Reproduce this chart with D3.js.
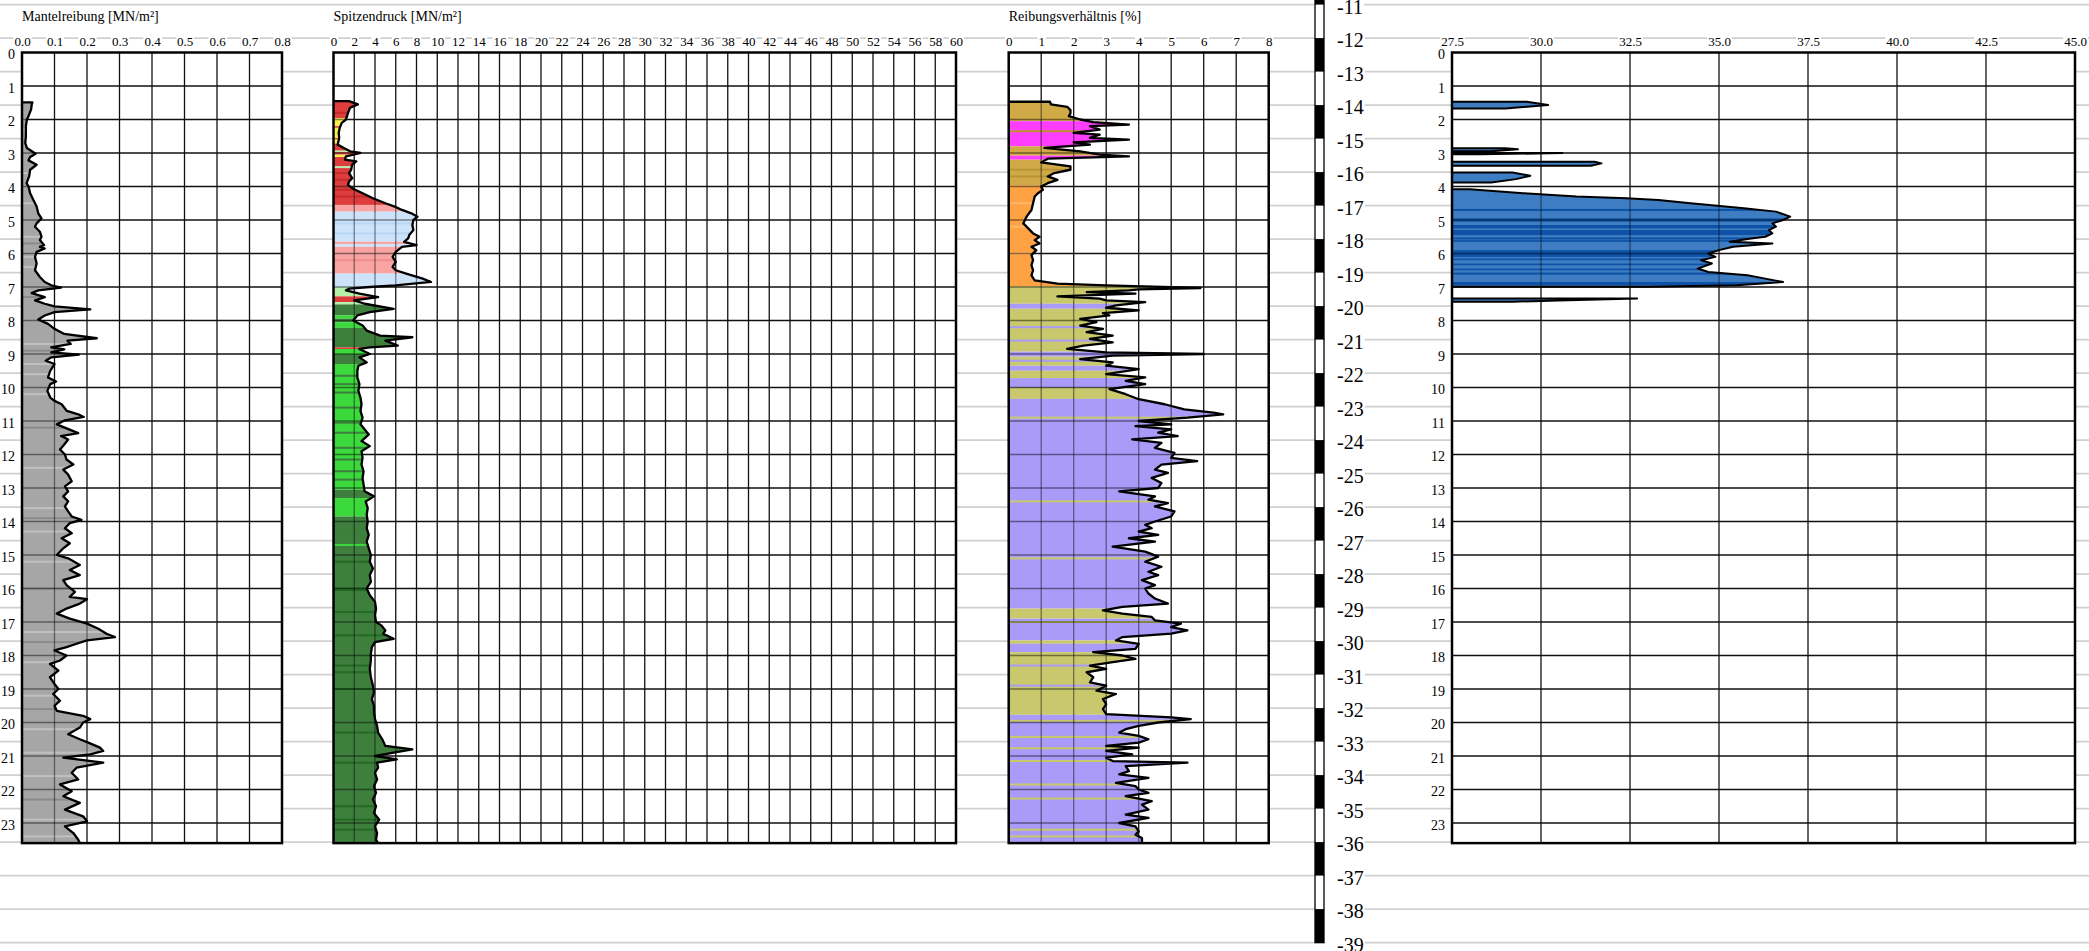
<!DOCTYPE html>
<html><head><meta charset="utf-8">
<script src="https://cdn.jsdelivr.net/npm/d3@7"></script>
<style>
body{margin:0;background:#fff;}
svg{display:block;font-family:"Liberation Serif","Times New Roman",serif;}
</style>
</head><body>
<svg id="chart" width="2089" height="951"></svg>
<script>
// ---------------- DATA ----------------
const depthTicks = [0,1,2,3,4,5,6,7,8,9,10,11,12,13,14,15,16,17,18,19,20,21,22,23];
const elevTicks = [-11,-12,-13,-14,-15,-16,-17,-18,-19,-20,-21,-22,-23,-24,-25,-26,-27,-28,-29,-30,-31,-32,-33,-34,-35,-36,-37,-38,-39];
const fsTicks = [0,0.1,0.2,0.3,0.4,0.5,0.6,0.7,0.8];
const qcTicks = [0,2,4,6,8,10,12,14,16,18,20,22,24,26,28,30,32,34,36,38,40,42,44,46,48,50,52,54,56,58,60];
const rfTicks = [0,1,2,3,4,5,6,7,8];
const phiTicks = [27.5,30,32.5,35,37.5,40,42.5,45];

// Mantelreibung [depth, MN/m²]
const fsProfile = [[1.49,0.032],[1.55,0.03],[1.7,0.028],[1.9,0.02],[2.0,0.015],[2.2,0.012],[2.5,0.012],[2.7,0.01],[2.85,0.015],[3.02,0.042],[3.12,0.025],[3.22,0.02],[3.35,0.045],[3.5,0.025],[3.7,0.022],[3.9,0.014],[4.0,0.02],[4.2,0.025],[4.4,0.035],[4.6,0.045],[4.8,0.05],[4.95,0.06],[5.1,0.045],[5.2,0.04],[5.35,0.055],[5.5,0.06],[5.6,0.055],[5.75,0.068],[5.8,0.055],[5.85,0.07],[5.95,0.045],[6.1,0.04],[6.3,0.045],[6.5,0.04],[6.7,0.055],[6.85,0.07],[6.95,0.09],[7.02,0.12],[7.1,0.05],[7.18,0.03],[7.3,0.07],[7.4,0.04],[7.5,0.07],[7.58,0.1],[7.67,0.21],[7.75,0.1],[7.85,0.07],[7.97,0.05],[8.1,0.08],[8.25,0.1],[8.4,0.13],[8.53,0.23],[8.6,0.14],[8.7,0.15],[8.8,0.09],[8.86,0.13],[8.95,0.09],[9.02,0.175],[9.1,0.09],[9.2,0.073],[9.3,0.1],[9.5,0.087],[9.7,0.08],[9.82,0.105],[9.9,0.087],[10.1,0.078],[10.3,0.087],[10.4,0.1],[10.5,0.122],[10.7,0.138],[10.8,0.173],[10.88,0.19],[10.98,0.132],[11.1,0.107],[11.36,0.173],[11.45,0.12],[11.55,0.142],[11.7,0.13],[11.85,0.117],[12.0,0.132],[12.15,0.137],[12.3,0.158],[12.45,0.127],[12.6,0.142],[12.8,0.153],[12.95,0.132],[13.1,0.142],[13.25,0.127],[13.4,0.142],[13.55,0.132],[13.7,0.142],[13.85,0.153],[13.95,0.183],[14.05,0.147],[14.2,0.132],[14.35,0.153],[14.5,0.122],[14.65,0.147],[14.8,0.127],[15.0,0.107],[15.1,0.142],[15.3,0.178],[15.45,0.147],[15.6,0.178],[15.75,0.127],[15.9,0.137],[16.1,0.163],[16.25,0.147],[16.32,0.2],[16.45,0.178],[16.6,0.137],[16.75,0.107],[16.9,0.147],[17.05,0.2],[17.2,0.235],[17.35,0.26],[17.45,0.286],[17.55,0.2],[17.65,0.168],[17.75,0.137],[17.85,0.1],[18.0,0.137],[18.15,0.117],[18.25,0.086],[18.45,0.112],[18.65,0.086],[18.85,0.1],[19.0,0.112],[19.15,0.096],[19.35,0.117],[19.5,0.1],[19.65,0.107],[19.8,0.188],[19.9,0.21],[20.0,0.188],[20.15,0.178],[20.35,0.142],[20.5,0.178],[20.6,0.204],[20.75,0.24],[20.85,0.25],[20.95,0.21],[21.05,0.127],[21.2,0.25],[21.35,0.168],[21.5,0.153],[21.7,0.173],[21.85,0.117],[22.05,0.153],[22.2,0.127],[22.4,0.178],[22.6,0.132],[22.8,0.188],[22.95,0.2],[23.1,0.132],[23.3,0.158],[23.5,0.173],[23.6,0.178]];

// Spitzendruck [depth, MN/m²]
const qcProfile = [[1.45,1.5],[1.55,2.35],[1.65,1.6],[1.8,1.4],[2.0,1.2],[2.1,0.8],[2.25,0.6],[2.4,0.5],[2.55,0.55],[2.75,0.4],[2.85,1.0],[2.95,1.6],[3.0,2.6],[3.1,1.2],[3.2,1.1],[3.25,2.2],[3.35,1.8],[3.5,1.7],[3.6,1.5],[3.75,1.8],[3.85,1.5],[3.95,1.4],[4.05,1.8],[4.2,2.8],[4.35,3.8],[4.5,5.0],[4.6,5.9],[4.7,6.6],[4.8,7.5],[4.9,8.1],[5.0,7.7],[5.15,7.6],[5.3,7.7],[5.45,7.3],[5.55,7.2],[5.65,6.8],[5.75,8.0],[5.8,6.6],[5.95,6.0],[6.1,5.7],[6.25,6.0],[6.4,5.7],[6.5,6.0],[6.6,7.0],[6.75,8.6],[6.85,9.4],[6.95,6.0],[7.0,3.5],[7.05,1.5],[7.1,1.2],[7.2,2.5],[7.3,4.3],[7.4,2.0],[7.5,3.0],[7.65,5.8],[7.75,3.5],[7.85,2.3],[8.0,1.9],[8.15,2.8],[8.3,3.2],[8.45,4.5],[8.5,7.6],[8.6,5.0],[8.75,6.2],[8.8,3.5],[8.85,2.5],[9.0,3.5],[9.1,2.5],[9.25,3.2],[9.35,2.4],[9.5,2.3],[9.7,2.3],[9.9,2.5],[10.1,2.4],[10.3,2.6],[10.5,2.7],[10.7,2.6],[10.9,2.8],[11.1,2.6],[11.4,3.4],[11.6,2.7],[11.75,3.5],[11.9,2.7],[12.1,2.8],[12.3,2.7],[12.5,2.9],[12.7,2.8],[12.9,2.9],[13.1,3.0],[13.25,3.9],[13.4,3.1],[13.6,3.3],[13.8,3.2],[14.0,3.3],[14.2,3.2],[14.4,3.4],[14.6,3.2],[14.8,3.4],[15.0,3.6],[15.2,3.5],[15.4,3.8],[15.6,3.5],[15.8,3.6],[16.0,3.2],[16.2,3.5],[16.4,4.0],[16.6,4.1],[16.8,4.0],[17.0,4.1],[17.1,4.6],[17.25,5.0],[17.35,4.8],[17.5,5.8],[17.6,4.0],[17.75,3.7],[17.95,3.6],[18.15,3.6],[18.4,3.5],[18.65,3.6],[18.9,3.8],[19.1,3.9],[19.3,3.7],[19.5,3.9],[19.7,3.9],[19.9,4.0],[20.1,4.2],[20.3,4.3],[20.5,4.7],[20.7,5.0],[20.8,7.6],[20.9,5.8],[21.0,4.0],[21.1,6.1],[21.2,4.2],[21.35,4.3],[21.5,4.0],[21.7,4.2],[21.9,3.9],[22.1,4.1],[22.3,3.8],[22.5,4.1],[22.7,3.9],[22.9,4.4],[23.1,4.0],[23.3,4.2],[23.5,4.1],[23.6,4.3]];

// Reibungsverhältnis [depth, %]
const rfProfile = [[1.47,1.27],[1.55,1.3],[1.62,1.8],[1.72,1.9],[1.82,1.9],[1.9,1.85],[2.0,2.2],[2.08,2.6],[2.15,3.7],[2.2,2.5],[2.3,2.8],[2.4,2.0],[2.45,2.8],[2.55,2.5],[2.6,3.7],[2.68,2.0],[2.75,2.5],[2.85,1.1],[2.95,2.2],[3.05,2.8],[3.1,3.7],[3.17,1.2],[3.28,1.0],[3.4,1.9],[3.5,1.9],[3.6,1.4],[3.7,1.2],[3.8,1.5],[3.9,1.2],[4.0,1.0],[4.1,1.05],[4.2,0.9],[4.3,0.8],[4.5,0.75],[4.7,0.7],[4.9,0.55],[5.1,0.45],[5.25,0.6],[5.4,0.75],[5.5,0.95],[5.6,0.8],[5.7,0.95],[5.8,0.7],[5.9,0.85],[6.05,0.7],[6.2,0.75],[6.35,0.7],[6.5,0.75],[6.65,0.7],[6.8,0.8],[6.9,1.5],[6.95,3.0],[7.03,5.9],[7.07,4.0],[7.1,3.7],[7.15,2.4],[7.2,3.9],[7.28,1.5],[7.35,2.8],[7.4,3.0],[7.45,4.2],[7.55,3.3],[7.62,3.0],[7.7,4.0],[7.78,2.9],[7.85,3.1],[7.95,2.2],[8.05,2.7],[8.15,2.2],[8.25,2.9],[8.35,2.4],[8.45,3.2],[8.55,2.5],[8.65,3.2],[8.75,2.3],[8.85,1.8],[8.95,3.0],[9.0,6.0],[9.05,3.2],[9.15,2.2],[9.25,3.2],[9.35,3.0],[9.45,4.0],[9.6,3.0],[9.7,4.2],[9.8,3.6],[9.9,4.2],[10.05,3.1],[10.2,3.6],[10.35,4.0],[10.5,4.8],[10.65,5.4],[10.75,6.3],[10.8,6.6],[10.9,5.5],[11.0,4.0],[11.1,5.0],[11.15,3.9],[11.25,5.0],[11.35,4.6],[11.45,5.2],[11.55,3.8],[11.65,4.7],[11.8,4.5],[11.95,5.1],[12.1,5.0],[12.2,5.8],[12.3,4.7],[12.45,4.5],[12.55,4.9],[12.7,4.4],[12.85,4.7],[13.0,4.6],[13.1,3.4],[13.25,4.5],[13.35,4.3],[13.45,4.9],[13.55,4.5],[13.7,5.1],[13.85,5.0],[14.0,4.5],[14.1,4.2],[14.2,4.4],[14.3,4.0],[14.4,4.6],[14.5,3.7],[14.6,4.5],[14.75,3.2],[14.9,4.2],[15.05,4.6],[15.2,4.2],[15.35,4.7],[15.5,4.3],[15.6,4.6],[15.75,4.1],[15.9,4.5],[16.0,4.2],[16.15,4.3],[16.3,4.5],[16.45,4.9],[16.55,3.5],[16.65,2.9],[16.75,3.5],[16.85,4.4],[16.95,4.5],[17.05,5.3],[17.15,5.0],[17.25,5.5],[17.35,5.0],[17.45,3.5],[17.55,3.3],[17.65,4.0],[17.8,3.9],[17.9,2.6],[18.0,3.5],[18.1,3.9],[18.2,3.2],[18.3,2.5],[18.4,3.0],[18.5,2.4],[18.65,2.6],[18.8,2.5],[18.9,3.0],[19.05,2.7],[19.15,3.3],[19.3,2.9],[19.45,3.0],[19.6,2.9],[19.75,3.0],[19.85,5.0],[19.9,5.6],[20.0,4.6],[20.1,4.0],[20.2,3.6],[20.3,3.4],[20.4,4.0],[20.5,4.3],[20.6,4.0],[20.7,3.0],[20.75,4.0],[20.85,3.0],[20.95,3.8],[21.05,3.0],[21.15,3.2],[21.2,5.5],[21.3,3.6],[21.45,3.7],[21.55,3.4],[21.65,4.3],[21.8,3.3],[21.9,3.9],[22.0,4.0],[22.1,4.3],[22.2,3.6],[22.35,4.4],[22.45,4.1],[22.6,4.3],[22.75,3.6],[22.85,4.3],[23.0,3.4],[23.1,3.9],[23.25,4.0],[23.35,3.9],[23.45,4.1],[23.6,4.1]];

// right-hand panel [depth, value], null = gap
const phiProfile = [[1.47,29.6],[1.57,30.2],[1.67,29.0],null,
 [2.86,29.0],[2.89,29.35],[2.95,28.6],null,
 [3.0,30.6],[3.04,28.3],null,
 [3.26,31.5],[3.31,31.7],[3.38,31.4],null,
 [3.58,29.2],[3.68,29.7],[3.78,29.3],[3.88,28.6],null,
 [4.08,28.0],[4.2,29.5],[4.3,31.0],[4.35,32.4],[4.4,33.3],[4.5,34.2],[4.65,35.7],[4.75,36.6],[4.9,37.0],[5.0,36.8],[5.1,36.5],[5.2,36.6],[5.3,36.4],[5.4,36.5],[5.5,36.3],[5.55,35.9],[5.65,35.3],[5.7,36.5],[5.8,35.4],[5.9,35.0],[6.0,34.7],[6.1,34.9],[6.2,34.5],[6.3,34.8],[6.45,34.4],[6.55,34.7],[6.65,35.8],[6.75,36.3],[6.85,36.8],[6.95,35.5],[6.99,33.0],null,
 [7.34,32.7],[7.4,30.5],[7.44,29.2]];

// soil-class bands [top, bottom, class]
const fsBands = [[1.4,23.6,'grey']];
const fsStripes = [[2.3,'greyL'],[3.6,'greyL'],[4.5,'greyL'],[5.5,'greyL'],[5.7,'greyD'],[6.1,'greyL'],[6.4,'greyL'],[7.3,'greyD'],[8.7,'greyL'],[8.9,'greyD'],[9.3,'greyL'],[9.6,'greyL'],[10.2,'greyL'],[11.2,'greyD'],[12.4,'greyL'],[13.6,'greyL'],[13.9,'greyD'],[14.3,'greyL'],[15.2,'greyL'],[16.0,'greyD'],[17.3,'greyL'],[17.6,'greyD'],[18.2,'greyL'],[19.2,'greyL'],[19.6,'greyD'],[20.2,'greyL'],[20.9,'greyL'],[21.6,'greyL'],[22.3,'greyD'],[22.9,'greyL'],[23.4,'greyL']];
const qcBands = [[1.45,1.96,'red'],[1.96,2.2,'yellow'],[2.2,2.25,'red'],[2.25,2.55,'yellow'],[2.55,2.6,'red'],[2.6,2.72,'yellow'],[2.72,2.93,'red'],[2.93,2.98,'lgreen'],[2.98,3.05,'red'],[3.05,3.12,'yellow'],[3.12,3.4,'red'],[3.4,3.45,'lgreen'],[3.45,4.55,'red'],[4.55,4.75,'pink'],[4.75,5.65,'blue'],[5.65,5.72,'pink'],[5.72,5.8,'blue'],[5.8,6.6,'pink'],[6.6,7.0,'blue'],[7.0,7.28,'lgreen'],[7.28,7.45,'red'],[7.45,7.52,'lgreen'],[7.52,7.85,'dgreen'],[7.85,7.95,'bgreen'],[7.95,8.05,'dgreen'],[8.05,8.22,'bgreen'],[8.22,8.8,'dgreen'],[8.8,8.85,'red'],[8.85,9.0,'bgreen'],[9.0,9.3,'dgreen'],[9.3,13.05,'bgreen'],[13.05,13.3,'dgreen'],[13.3,13.85,'bgreen'],[13.85,23.6,'dgreen']];
const qcStripes = [[1.8,'redD'],[3.6,'redD'],[3.8,'redD'],[4.1,'redD'],[4.3,'redD'],[5.1,'blueD'],[5.4,'blueD'],[6.2,'pinkD'],[9.65,'dgreen'],[9.9,'dgreen'],[10.15,'dgreen'],[10.6,'dgreen'],[11.05,'dgreen'],[11.35,'dgreen'],[11.8,'dgreen'],[12.15,'dgreen'],[12.5,'dgreen'],[12.75,'dgreen'],[14.7,'bgreen'],[15.2,'dgreenD'],[16.0,'dgreenD'],[16.05,'dgreenD'],[16.7,'dgreenD'],[17.4,'dgreenD'],[18.3,'dgreenD'],[18.5,'dgreenD'],[19.0,'dgreenD'],[20.3,'dgreenD'],[21.2,'dgreenD'],[22.5,'dgreenD'],[22.9,'dgreenD'],[23.2,'dgreenD']];
const rfBands = [[1.45,2.05,'gold'],[2.05,2.8,'magenta'],[2.8,3.08,'gold'],[3.08,3.2,'magenta'],[3.2,3.97,'gold'],[3.97,6.97,'orange'],[6.97,7.5,'khaki'],[7.5,7.65,'lav'],[7.65,8.93,'khaki'],[8.93,9.08,'lav'],[9.08,9.35,'khaki'],[9.35,9.5,'lav'],[9.5,9.72,'khaki'],[9.72,10.0,'lav'],[10.0,10.34,'khaki'],[10.34,16.6,'lav'],[16.6,16.9,'khaki'],[16.9,17.55,'lav'],[17.55,17.65,'khaki'],[17.65,17.9,'lav'],[17.9,19.77,'khaki'],[19.77,23.6,'lav']];
const rfStripes = [[2.35,'goldD'],[3.5,'goldD'],[3.7,'goldD'],[4.5,'orangeL'],[5.2,'orangeL'],[6.0,'orangeL'],[8.2,'lav'],[8.6,'lav'],[9.2,'lav'],[10.9,'khaki'],[13.4,'khaki'],[15.1,'khaki'],[17.0,'khaki'],[18.3,'lav'],[18.9,'lav'],[19.95,'khaki'],[20.43,'khaki'],[20.77,'khaki'],[21.15,'khaki'],[21.85,'khaki'],[22.27,'khaki'],[23.2,'khaki'],[23.4,'khaki']];
const phiBands = [[1.4,7.5,'blue4'],[4.95,5.05,'blue4D'],[5.15,5.25,'blue4D'],[5.3,5.45,'blue4D'],[5.6,5.65,'blue4D'],[5.9,6.1,'blue4D'],[6.15,6.2,'blue4D'],[6.3,6.35,'blue4D'],[6.45,6.5,'blue4D'],[6.85,6.95,'blue4D']];
const phiStripes = [[4.7,'blue4D'],[5.55,'blue4D'],[6.6,'blue4D']];

// ---------------- STYLE ----------------
const classColor = {grey:'#a6a6a6',greyL:'#c0c0c0',greyD:'#8a8a8a',red:'#dd3d3d',redD:'#c52c2c',yellow:'#f6f150',
  lgreen:'#b5f1a9',pink:'#f9a3a3',pinkD:'#ef8e8e',blue:'#cde3fa',blueD:'#b8d6f5',dgreen:'#3e7f3e',dgreenD:'#236a23',bgreen:'#3bd93b',
  gold:'#cfaa47',goldD:'#bb9535',magenta:'#ff3dff',orange:'#ffa244',orangeL:'#ffb86a',khaki:'#c9c86c',lav:'#a99bf7',
  blue4:'#3f7dc2',blue4D:'#0d52a6'};

const W = 2089;
const yD = d3.scaleLinear().domain([0, 23.6]).range([52.5, 843.1]);
const groundElev = -12.43;
const yE = e => yD(groundElev - e);

const svg = d3.select('#chart');
const defs = svg.append('defs');

// background elevation lines
svg.append('g').selectAll('line').data(elevTicks).join('line')
  .attr('x1',0).attr('x2',W).attr('y1',d=>yE(d)).attr('y2',d=>yE(d))
  .attr('stroke','#d0d0d0').attr('stroke-width',1.6);

const panels = [
  {x0:22, x1:282, domain:[0,0.8], ticks:fsTicks, fmt:d3.format('.1f'), title:'Mantelreibung [MN/m²]', profile:fsProfile, bands:fsBands, stripes:fsStripes, closed:false, depthLabelX:15},
  {x0:333.5, x1:956, domain:[0,60], ticks:qcTicks, fmt:d=>String(d), title:'Spitzendruck [MN/m²]', profile:qcProfile, bands:qcBands, stripes:qcStripes, closed:false},
  {x0:1008.7, x1:1268.7, domain:[0,8], ticks:rfTicks, fmt:d=>String(d), title:'Reibungsverhältnis [%]', profile:rfProfile, bands:rfBands, stripes:rfStripes, closed:false},
  {x0:1452, x1:2075, domain:[27.5,45], ticks:phiTicks, fmt:d3.format('.1f'), title:null, profile:phiProfile, bands:phiBands, stripes:phiStripes, closed:true, depthLabelX:1445}
];

function splitSegments(profile){
  const segs=[]; let cur=[];
  profile.forEach(p=>{ if(p===null){ if(cur.length) segs.push(cur); cur=[]; } else cur.push(p); });
  if(cur.length) segs.push(cur);
  return segs;
}

panels.forEach((p,i)=>{
  const x = d3.scaleLinear().domain(p.domain).range([p.x0,p.x1]);
  const top = yD(0), bot = yD(23.6);
  const g = svg.append('g');
  g.append('rect').attr('x',p.x0).attr('y',top).attr('width',p.x1-p.x0).attr('height',bot-top).attr('fill','#fff');

  const drawGrid = (sel, color, opacity) => {
    const gg = sel.append('g').attr('stroke',color).attr('stroke-opacity',opacity).attr('stroke-width',1.3);
    gg.selectAll('line.v').data(p.ticks.slice(1,-1)).join('line').attr('class','v')
      .attr('x1',d=>x(d)).attr('x2',d=>x(d)).attr('y1',top).attr('y2',bot);
    gg.selectAll('line.h').data(depthTicks.slice(1)).join('line').attr('class','h')
      .attr('x1',p.x0).attr('x2',p.x1).attr('y1',d=>yD(d)).attr('y2',d=>yD(d));
  };
  drawGrid(g, '#111', 1);

  const segs = splitSegments(p.profile);
  const line = d3.line().x(d=>x(d[1])).y(d=>yD(d[0]));
  const polyPts = seg => [[seg[0][0], p.domain[0]], ...seg, [seg[seg.length-1][0], p.domain[0]]];
  const clipId = 'clip'+i;
  defs.append('clipPath').attr('id',clipId).selectAll('path').data(segs).join('path')
    .attr('d',s=>line(polyPts(s))+'Z');

  const fill = g.append('g').attr('clip-path',`url(#${clipId})`);
  fill.selectAll('rect.band').data(p.bands).join('rect').attr('class','band')
    .attr('x',p.x0).attr('width',p.x1-p.x0)
    .attr('y',d=>yD(d[0])).attr('height',d=>yD(d[1])-yD(d[0]))
    .attr('fill',d=>classColor[d[2]]);
  fill.selectAll('rect.stripe').data(p.stripes).join('rect').attr('class','stripe')
    .attr('x',p.x0).attr('width',p.x1-p.x0)
    .attr('y',d=>yD(d[0])-1).attr('height',2)
    .attr('fill',d=>classColor[d[1]]);
  drawGrid(fill, '#000', 0.45);

  // outline
  if(p.closed){
    g.append('g').selectAll('path').data(segs).join('path')
      .attr('d',s=>line(polyPts(s))+'Z')
      .attr('fill','none').attr('stroke','#000').attr('stroke-width',2).attr('stroke-linejoin','round');
  } else {
    g.append('g').selectAll('path').data(segs).join('path')
      .attr('d',s=>line([[s[0][0],p.domain[0]], ...s]))
      .attr('fill','none').attr('stroke','#000').attr('stroke-width',2.3).attr('stroke-linejoin','round');
  }

  // border
  g.append('rect').attr('x',p.x0).attr('y',top).attr('width',p.x1-p.x0).attr('height',bot-top)
    .attr('fill','none').attr('stroke','#000').attr('stroke-width',2.5);

  // top axis labels
  const ax = svg.append('g').attr('transform','translate(0,45.5)')
    .call(d3.axisTop(x).tickValues(p.ticks).tickFormat(p.fmt).tickSize(0).tickPadding(0));
  ax.select('.domain').remove();
  ax.selectAll('text').attr('font-family','"Liberation Serif",serif').attr('font-size',13).attr('fill','#000').attr('dy',0);
  ax.selectAll('.tick').each(function(){
    const t = d3.select(this).select('text');
    const bb = t.node().getBBox();
    d3.select(this).insert('rect','text').attr('x',bb.x-1).attr('y',bb.y).attr('width',bb.width+2).attr('height',bb.height).attr('fill','#fff');
  });

  if(p.title){
    svg.append('text').attr('x',p.x0).attr('y',21).attr('font-size',14).attr('fill','#000').text(p.title);
  }

  if(p.depthLabelX){
    const ay = svg.append('g').attr('transform',`translate(${p.depthLabelX},0)`)
      .call(d3.axisLeft(yD).tickValues(depthTicks).tickFormat(d=>String(d)).tickSize(0).tickPadding(0));
    ay.select('.domain').remove();
    ay.selectAll('text').attr('font-family','"Liberation Serif",serif').attr('font-size',14).attr('fill','#000').attr('dy','0.45em');
  }
});

// elevation bar
const barX = 1315, barW = 9;
const barSegs = [-10,-11,-12,-13,-14,-15,-16,-17,-18,-19,-20,-21,-22,-23,-24,-25,-26,-27,-28,-29,-30,-31,-32,-33,-34,-35,-36,-37,-38];
const eg = svg.append('g');
eg.append('rect').attr('x',barX).attr('y',yE(-10)).attr('width',barW).attr('height',yE(-39)-yE(-10))
  .attr('fill','#fff').attr('stroke','#000').attr('stroke-width',1.3);
eg.selectAll('rect.blk').data(barSegs.filter(e=>e%2===0)).join('rect').attr('class','blk')
  .attr('x',barX).attr('width',barW).attr('y',d=>yE(d)).attr('height',d=>yE(d-1)-yE(d)).attr('fill','#000');
const elevScale = d3.scaleLinear().domain([groundElev, groundElev-23.6]).range([yD(0), yD(23.6)]);
const ea = svg.append('g').attr('transform',`translate(${barX+barW},0)`)
  .call(d3.axisRight(elevScale).tickValues(elevTicks).tickFormat(d=>String(d)).tickSize(0).tickPadding(13));
ea.select('.domain').remove();
ea.selectAll('text').attr('font-family','"Liberation Serif",serif').attr('font-size',20).attr('fill','#000').attr('dy','0.42em');
ea.selectAll('.tick').each(function(){
  const bb = d3.select(this).select('text').node().getBBox();
  d3.select(this).insert('rect','text').attr('x',1).attr('y',-8).attr('width',bb.x+bb.width).attr('height',16).attr('fill','#fff');
});
</script>
</body></html>
